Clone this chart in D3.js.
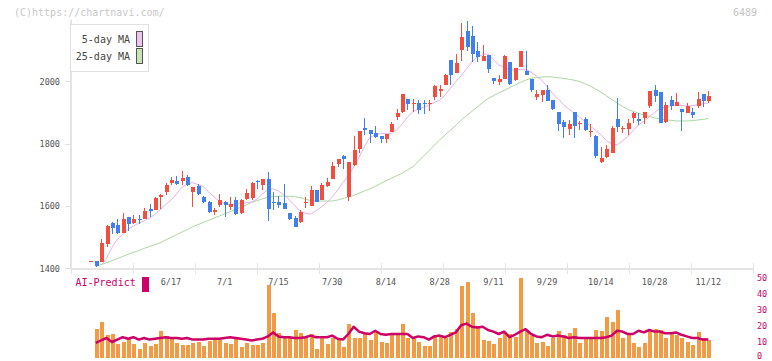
<!DOCTYPE html>
<html><head><meta charset="utf-8">
<script src="https://cdn.jsdelivr.net/npm/d3@7"></script>
<style>body{margin:0;background:#fff}svg{display:block}</style>
</head><body>
<script>
const dates = ["5/27","5/28","5/29","5/30","6/2","6/3","6/4","6/5","6/6","6/9","6/10","6/11","6/12","6/13","6/16","6/17","6/18","6/19","6/20","6/23","6/24","6/25","6/26","6/27","6/30",
"7/1","7/2","7/3","7/4","7/7","7/8","7/9","7/10","7/11","7/14","7/15","7/16","7/17","7/18","7/22","7/23","7/24","7/25","7/28","7/29","7/30","7/31",
"8/1","8/4","8/5","8/6","8/7","8/8","8/12","8/13","8/14","8/15","8/18","8/19","8/20","8/21","8/22","8/25","8/26","8/27","8/28","8/29",
"9/1","9/2","9/3","9/4","9/5","9/8","9/9","9/10","9/11","9/12","9/16","9/17","9/18","9/19","9/22","9/24","9/25","9/26","9/29","9/30",
"10/1","10/2","10/3","10/6","10/7","10/8","10/9","10/10","10/14","10/15","10/16","10/17","10/20","10/21","10/22","10/23","10/24","10/27","10/28","10/29","10/30","10/31",
"11/4","11/5","11/6","11/7","11/10","11/11","11/12"];
const dateLabels = ["6/17","7/1","7/15","7/30","8/14","8/28","9/11","9/29","10/14","10/28","11/12"];
const priceTicks = [1400,1600,1800,2000];
const volTicks = [0,10,20,30,40,50];

const open  = [1423,1423,1421,1477,1546,1539,1514,1564,1546,1557,1558,1590,1587,1628,1645,1675,1679,1681,1692,1646,1665,1630,1614,1582,1603,1614,1598,1619,1577,1622,1627,1680,1668,1687,1612,1613,1610,1577,1560,1550,1611,1601,1651,1619,1665,1688,1735,1761,1630,1731,1784,1850,1844,1834,1825,1814,1838,1887,1901,1944,1929,1930,1931,1929,1951,1970,1989,2069,2028,2102,2162,2146,2097,2065,2085,2010,1999,2008,2062,2005,2047,2032,2008,1951,1955,1973,1940,1901,1869,1847,1902,1866,1880,1839,1826,1742,1756,1771,1878,1847,1846,1883,1878,1884,1922,1972,1965,1869,1941,1922,1911,1899,1903,1922,1960,1936];
const high  = [1424,1424,1494,1538,1550,1558,1578,1565,1570,1571,1595,1607,1630,1638,1675,1694,1697,1712,1700,1662,1670,1632,1615,1595,1639,1615,1628,1630,1622,1655,1676,1683,1688,1709,1644,1632,1670,1578,1568,1587,1630,1664,1652,1673,1690,1740,1752,1764,1742,1825,1842,1883,1845,1857,1826,1832,1871,1910,1961,1945,1944,1940,1940,1940,1989,1989,2024,2070,2087,2187,2195,2178,2125,2118,2086,2011,2021,2084,2063,2044,2098,2098,2009,1972,1973,1989,1941,1902,1876,1876,1903,1874,1885,1862,1827,1789,1796,1856,1946,1856,1878,1903,1897,1902,1970,1988,1966,1933,1954,1963,1912,1931,1914,1967,1961,1970];
const low   = [1422,1403,1420,1467,1511,1511,1513,1521,1541,1541,1557,1565,1586,1590,1636,1667,1667,1667,1664,1598,1636,1610,1577,1570,1598,1566,1587,1571,1574,1620,1620,1656,1652,1552,1587,1594,1590,1555,1532,1546,1594,1600,1613,1618,1662,1686,1724,1719,1615,1730,1771,1828,1801,1817,1801,1803,1836,1876,1900,1908,1903,1894,1894,1905,1940,1951,1988,1989,2027,2067,2098,2062,2062,2064,2028,1993,1989,2007,1990,2000,2046,2021,1965,1940,1935,1936,1908,1842,1817,1828,1819,1843,1842,1822,1755,1737,1753,1770,1839,1835,1828,1867,1860,1863,1916,1935,1866,1866,1908,1921,1841,1898,1884,1916,1919,1930];
const close = [1423,1407,1481,1536,1530,1514,1557,1541,1557,1554,1584,1585,1626,1636,1667,1683,1671,1689,1667,1662,1639,1614,1580,1587,1619,1603,1606,1574,1619,1643,1674,1677,1687,1591,1610,1604,1591,1559,1534,1580,1613,1651,1614,1667,1677,1728,1751,1751,1741,1780,1841,1844,1830,1822,1814,1831,1863,1899,1958,1927,1931,1908,1929,1931,1985,1974,2019,2019,2058,2143,2109,2089,2077,2081,2039,2002,2008,2083,1992,2043,2097,2022,1973,1960,1972,1937,1910,1863,1854,1863,1858,1868,1843,1841,1760,1753,1783,1849,1854,1850,1865,1897,1873,1901,1969,1954,1867,1924,1922,1933,1903,1921,1892,1944,1936,1954];
const volume = [null,18,22.7,14.3,15,8.6,9.7,11.8,8.6,5.5,9.3,7.2,8.6,16.8,13.9,12.2,9.3,8,8,9.3,10.1,7.6,10.7,12.4,11.2,9.3,8.6,12.2,6.7,9.3,8.2,8.4,9.3,
45.9,28.4,15.6,12.8,12.8,17.5,15.4,12.6,14.7,5.5,12.2,8.6,12.8,11.4,6.9,21.3,12.8,12.6,15.6,11.2,16,10.1,9.5,14.3,14.3,21.3,12.8,12.2,9.7,7.6,7.6,14.3,14.3,12.8,16.4,18.1,45,47.6,28,19.8,11.2,10.7,8.6,12.8,16,15,13,50,
17.5,13.9,9.3,10.1,7.2,12.2,16.8,14.3,15.6,18.7,9.3,13,12.2,17.5,16.8,25.9,22.7,30.1,12.6,15,9.3,6.7,9.3,16.8,18.1,17.5,12.2,15,14.3,12.8,10.1,8,16.4,12.2,11.2];
const aiPredict = [null,9.5,11,12.5,10,11.5,13,12,13,11.5,12.5,11.5,12,12.5,13,12.5,12.5,12,12.5,11.5,11.5,11.5,12,12,12,12.5,13,12.5,12,11.5,11,11.5,12,13.5,16,13.5,13,13,12.5,12.5,13,14,13,13,13,14,12,11.5,15,19.5,16.5,15.5,15,17,15,14.5,15,15,15,15,12.5,13.5,13,11.5,13.5,14,13,14.5,16,20.5,21.5,19.5,19,19.5,17.5,16.5,15,16.5,13,14.5,16.5,18,15,13.5,13,14.5,13.5,14,13.5,12.5,13,12.5,12.5,12.5,12.5,12.5,13,14,17,16.5,15,15,17,16,17.5,16.5,16.5,15.5,15.5,16,14.5,13.5,12.5,12.5,11.5,11.5];
const ma5 = [null,null,1410,1432,1467,1492,1510,1525,1536,1545,1552,1561,1573,1588,1604,1619,1638,1660,1670,1675,1669,1662,1645,1630,1615,1608,1603,1605,1608,1610,1613,1622,1638,1652,1655,1648,1636,1621,1602,1583,1577,1574,1585,1597,1611,1628,1651,1675,1698,1725,1757,1790,1820,1828,1833,1833,1834,1845,1862,1886,1902,1911,1917,1924,1932,1940,1956,1978,1999,2018,2040,2063,2078,2086,2088,2070,2053,2045,2038,2037,2038,2038,2030,2017,2004,1983,1962,1945,1926,1912,1898,1886,1872,1858,1843,1829,1810,1800,1796,1808,1824,1842,1860,1872,1886,1900,1913,1918,1922,1924,1923,1921,1922,1925,1928,1931];
const ma25 = [null,1406,1412,1418,1424,1431,1438,1445,1451,1457,1464,1470,1476,1482,1491,1499,1508,1516,1524,1533,1540,1547,1554,1561,1568,1575,1582,1589,1596,1604,1611,1617,1623,1628,1630,1631,1632,1631,1630,1627,1622,1617,1616,1616,1616,1616,1619,1624,1629,1634,1641,1648,1655,1663,1672,1681,1689,1697,1705,1716,1726,1743,1760,1777,1795,1812,1828,1843,1859,1875,1890,1904,1918,1932,1945,1954,1963,1971,1980,1988,1997,2004,2010,2012,2014,2015,2014,2012,2010,2007,2004,2000,1993,1985,1976,1966,1954,1942,1931,1920,1910,1904,1898,1892,1888,1883,1879,1877,1875,1873,1873,1873,1874,1876,1878,1881];

const W = 772, H = 361;
const RED = "#f24e3f", BLUE = "#4080ee", ORANGE = "#f29a44", MAG = "#cc0066";
const FONT = "'DejaVu Sans Mono', monospace";

const svg = d3.select("body").append("svg").attr("width", W).attr("height", H);

const x = d3.scalePoint().domain(dates).range([90.4, 708.3]);
const y = d3.scaleLinear().domain([1400, 2000]).range([268.3, 81.4]);
const yv = d3.scaleLinear().domain([0, 50]).range([358, 278]);
const grid = d3.scaleLinear().domain([0, 11]).range([70.7, 752.7]);

// header texts
svg.append("text").attr("x", 14).attr("y", 15.5).attr("font-family", FONT).attr("font-size", 10)
  .attr("fill", "#c8c8c8").text("(C)https://chartnavi.com/");
svg.append("text").attr("x", 757).attr("y", 15.5).attr("text-anchor", "end").attr("font-family", FONT)
  .attr("font-size", 10).attr("fill", "#c4c4c4").text("6489");

// axes lines
const axisG = svg.append("g").attr("shape-rendering", "crispEdges");
axisG.append("line").attr("x1", 70.5).attr("x2", 70.5).attr("y1", 20).attr("y2", 269)
  .attr("stroke", "#e4e4e4").attr("stroke-width", 2);
axisG.append("line").attr("x1", 70).attr("x2", 753).attr("y1", 268.5).attr("y2", 268.5)
  .attr("stroke", "#e4e4e4").attr("stroke-width", 2);
axisG.selectAll(".gt").data(d3.range(12)).join("line")
  .attr("x1", d => Math.round(grid(d)) + 0.5).attr("x2", d => Math.round(grid(d)) + 0.5)
  .attr("y1", 263).attr("y2", 274).attr("stroke", "#e4e4e4").attr("stroke-width", 1.5);

// y axis
const yAxis = svg.append("g").attr("transform", "translate(70,0)")
  .call(d3.axisLeft(y).tickValues(priceTicks).tickSize(5).tickPadding(5).tickFormat(d3.format("d")));
yAxis.select(".domain").remove();
yAxis.selectAll("line").attr("stroke", "#e0e0e0").attr("shape-rendering", "crispEdges");
yAxis.selectAll("text").attr("font-family", FONT).attr("font-size", 8.5).attr("fill", "#555");

// moving averages
const idx = d3.range(dates.length);
const lineMA = arr => d3.line().defined(i => arr[i] != null).x(i => x(dates[i])).y(i => y(arr[i]))(idx);
svg.append("path").attr("d", lineMA(ma25)).attr("fill", "none").attr("stroke", "#acd8a0").attr("stroke-width", 1);
svg.append("path").attr("d", lineMA(ma5)).attr("fill", "none").attr("stroke", "#e8b0ec").attr("stroke-width", 1);

// candles
const cg = svg.append("g").attr("shape-rendering", "crispEdges");
idx.forEach(i => {
  const cx = Math.round(x(dates[i]));
  const up = close[i] >= open[i];
  const col = up ? RED : BLUE;
  cg.append("line").attr("x1", cx + 0.5).attr("x2", cx + 0.5)
    .attr("y1", y(high[i])).attr("y2", y(low[i])).attr("stroke", col).attr("stroke-width", 1);
  const top = y(Math.max(open[i], close[i])), bot = y(Math.min(open[i], close[i]));
  cg.append("rect").attr("x", cx - 1.5).attr("width", 4)
    .attr("y", top).attr("height", Math.max(1, bot - top)).attr("fill", col);
});

// legend
svg.append("rect").attr("x", 70.5).attr("y", 24.5).attr("width", 78).attr("height", 47)
  .attr("fill", "#fff").attr("stroke", "#e0e0e0").attr("shape-rendering", "crispEdges");
svg.append("text").attr("x", 130).attr("y", 43).attr("text-anchor", "end").attr("font-family", FONT)
  .attr("font-size", 10).attr("fill", "#444").text("5-day MA");
svg.append("text").attr("x", 130).attr("y", 59.5).attr("text-anchor", "end").attr("font-family", FONT)
  .attr("font-size", 10).attr("fill", "#444").text("25-day MA");
svg.append("rect").attr("x", 136.5).attr("y", 31.5).attr("width", 6).attr("height", 15)
  .attr("fill", "#f0c4f0").attr("stroke", "#555").attr("shape-rendering", "crispEdges");
svg.append("rect").attr("x", 136.5).attr("y", 48.5).attr("width", 6).attr("height", 15)
  .attr("fill", "#c4e4b8").attr("stroke", "#555").attr("shape-rendering", "crispEdges");

// date labels
svg.append("g").selectAll("text").data(dateLabels).join("text")
  .attr("x", d => x(d)).attr("y", 285).attr("text-anchor", "middle")
  .attr("font-family", FONT).attr("font-size", 8.5).attr("fill", "#555").text(d => d);

// AI-Predict label
svg.append("text").attr("x", 75.5).attr("y", 286).attr("font-family", FONT).attr("font-size", 10)
  .attr("fill", MAG).text("AI-Predict");
svg.append("rect").attr("x", 142).attr("y", 277).attr("width", 7).attr("height", 15).attr("fill", MAG);

// volume bars
svg.append("g").attr("shape-rendering", "crispEdges").selectAll("rect")
  .data(idx.filter(i => volume[i] != null)).join("rect")
  .attr("x", i => Math.round(x(dates[i])) - 1.5).attr("width", 4)
  .attr("y", i => yv(volume[i])).attr("height", i => yv(0) - yv(volume[i])).attr("fill", ORANGE);

// AI predict line
svg.append("path")
  .attr("d", d3.line().defined(i => aiPredict[i] != null).x(i => x(dates[i])).y(i => yv(aiPredict[i]))(idx))
  .attr("fill", "none").attr("stroke", MAG).attr("stroke-width", 2.5).attr("stroke-linejoin", "round");

// volume axis
const vAxis = svg.append("g").attr("transform", "translate(753,0)")
  .call(d3.axisRight(yv).tickValues(volTicks).tickSize(0).tickPadding(4));
vAxis.select(".domain").remove();
vAxis.selectAll("text").attr("font-family", FONT).attr("font-size", 8.5).attr("fill", MAG)
  .attr("dy", d => d === 0 ? "0.1em" : "0.32em");
</script>
</body></html>
